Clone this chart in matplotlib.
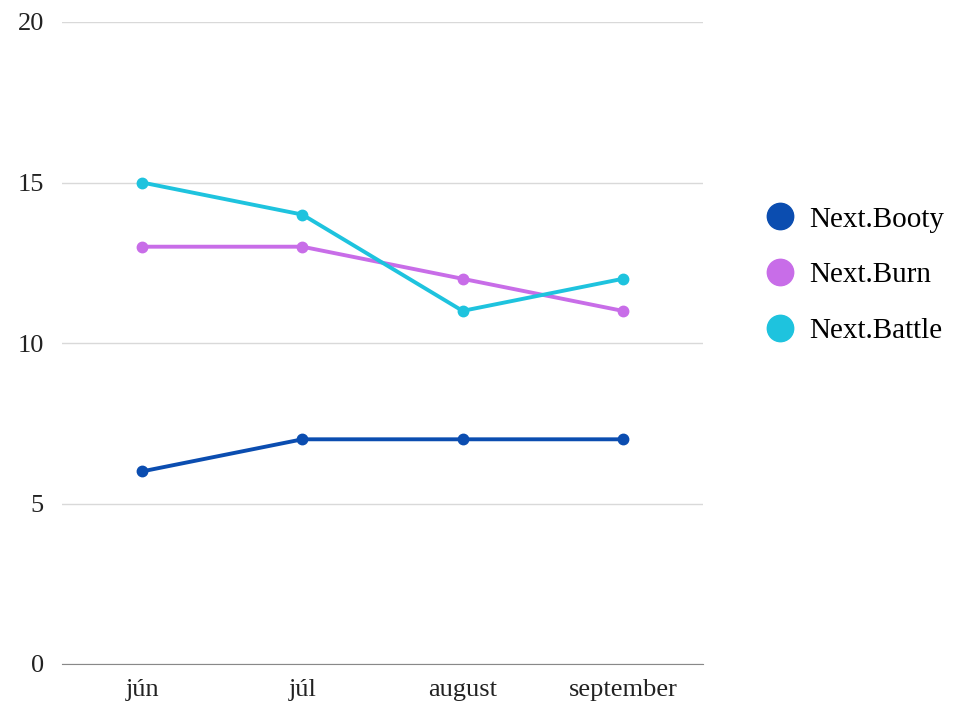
import matplotlib
matplotlib.use("Agg")
import matplotlib.pyplot as plt
from matplotlib.lines import Line2D

plt.rcParams['font.family'] = ['Liberation Serif', 'DejaVu Serif']

months = ["jún", "júl", "august", "september"]
booty = [6, 7, 7, 7]
burn = [13, 13, 12, 11]
battle = [15, 14, 11, 12]
series_names = ["Next.Booty", "Next.Burn", "Next.Battle"]
colors = ["#0B4DB0", "#C86DE8", "#1EC3DE"]
y_ticks = [0, 5, 10, 15, 20]

fig = plt.figure(figsize=(9.56, 7.04), dpi=100)
ax = fig.add_axes([62/956, 1-664/704, (703-62)/956, (664-22)/704])

x = list(range(len(months)))
for vals, c in zip([booty, burn, battle], colors):
    ax.plot(x, vals, color=c, lw=2.8, marker='o', markersize=7.5, zorder=3)

ax.set_xlim(-0.5, len(months) - 0.5)
ax.set_ylim(0, 20)
ax.set_yticks(y_ticks)
ax.set_yticklabels([str(v) for v in y_ticks])
ax.set_xticks(x)
ax.set_xticklabels(months)
ax.grid(axis='y', color='#D9D9D9', lw=1)
ax.set_axisbelow(True)
for s in ['left', 'right', 'top']:
    ax.spines[s].set_visible(False)
ax.spines['bottom'].set_color('#888888')
ax.tick_params(axis='both', length=0, labelsize=19, colors='#222222')
ax.tick_params(axis='y', pad=13)
ax.tick_params(axis='x', pad=11)

handles = [Line2D([], [], ls='none', marker='o', markersize=19, color=c) for c in colors]
fig.legend(handles, series_names, loc='center left', bbox_to_anchor=(762/956, 1-275/704),
           frameon=False, fontsize=21, handletextpad=0.43, labelspacing=1.0, borderaxespad=0,
           borderpad=0, handlelength=1.2)

fig.savefig("out.png", dpi=100)
